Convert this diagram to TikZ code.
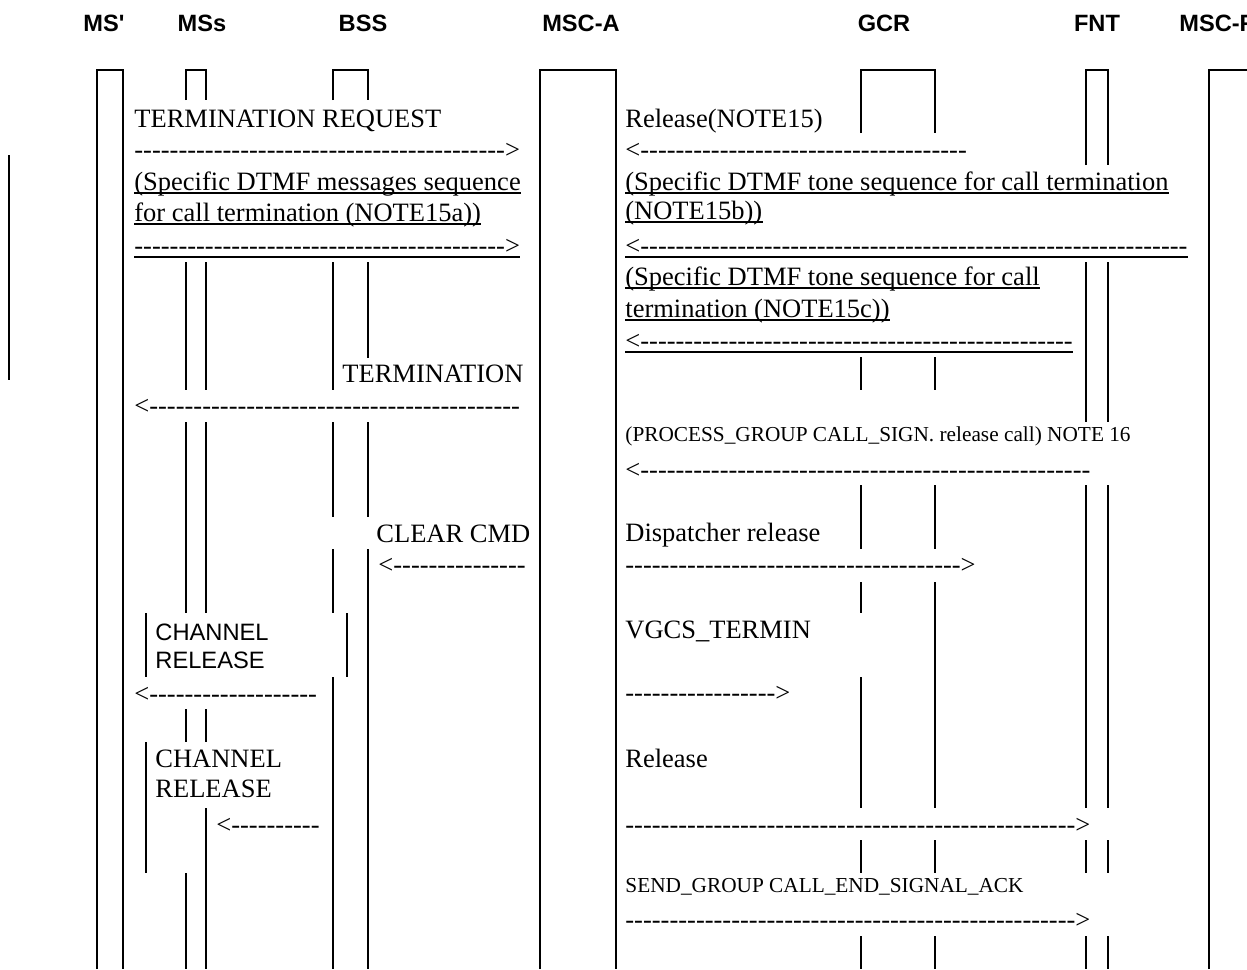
\documentclass[tikz,border=0pt]{standalone}
\usepackage{fontspec}
\setmainfont{Liberation Serif}[Ligatures=TeXOff]
\setsansfont{Liberation Sans}[Ligatures=TeXOff]
\newcommand\dsh[1]{\foreach\k in {1,...,#1}{-}}
\newcommand\ulnode[1]{\draw[ul] ([yshift=-1.5pt]#1.base west) -- ([yshift=-1.5pt]#1.base east);}
\begin{document}
\begin{tikzpicture}[x=0.5pt,y=-0.5pt,
  msg/.style={anchor=base west,inner sep=0pt,font=\fontsize{13.25}{15}\selectfont},
  small/.style={anchor=base west,inner sep=0pt,font=\fontsize{10.65}{12}\selectfont},
  sansmsg/.style={anchor=base west,inner sep=0pt,font=\sffamily\fontsize{11.85}{14}\selectfont},
  head/.style={anchor=base,inner sep=0pt,font=\sffamily\bfseries\fontsize{11.8}{14}\selectfont},
  life/.style={line width=1pt},
  ul/.style={line width=1pt}]
\fill[white] (0,0) rectangle (1247,969);
\useasboundingbox (0,0) rectangle (1247,969);
% headers
\node[head] (hms1) at (104,32) {MS'};
\node[head] (hmss) at (202,32) {MSs};
\node[head] (hbss) at (363,32) {BSS};
\node[head] (hmsca) at (581,32) {MSC-A};
\node[head] (hgcr) at (884,32) {GCR};
\node[head] (hfnt) at (1097,32) {FNT};
\node[head,anchor=base west] (hmscf) at (1179,32) {MSC-F};
% full lifelines
\draw[life] (97,969) -- (97,70) -- (123,70) -- (123,969);
\draw[life] (540,969) -- (540,70) -- (616,70) -- (616,969);
\draw[life] (1209,969) -- (1209,70) -- (1260,70);
% top boxes
\draw[life] (186,100) -- (186,70) -- (206,70) -- (206,100);
\draw[life] (333,100) -- (333,70) -- (368,70) -- (368,100);
\draw[life] (861,133) -- (861,70) -- (935,70) -- (935,133);
\draw[life] (1086,165) -- (1086,70) -- (1108,70) -- (1108,165);
% segments
\foreach \a/\b in {262/390,422/613,709/742,873/969} \draw[life] (186,\a) -- (186,\b);
\foreach \a/\b in {262/390,422/613,709/742,808/969} \draw[life] (206,\a) -- (206,\b);
\foreach \a/\b in {262/390,422/517,549/613,677/969} \draw[life] (333,\a) -- (333,\b);
\foreach \a/\b in {262/358,422/517,549/969} \draw[life] (368,\a) -- (368,\b);
\foreach \a/\b in {613/677,742/873} \draw[life] (146,\a) -- (146,\b);
\draw[life] (347,613) -- (347,677);
\foreach \a/\b in {357/390,485/549,582/613,677/808,840/873,936/969} \draw[life] (861,\a) -- (861,\b);
\foreach \a/\b in {357/390,485/549,582/808,840/873,936/969} \draw[life] (935,\a) -- (935,\b);
\foreach \a/\b in {262/422,485/808,840/873,936/969} {\draw[life] (1086,\a) -- (1086,\b); \draw[life] (1108,\a) -- (1108,\b);}
\draw[life] (9,155) -- (9,380);
% left messages
\node[msg] (t1) at (134,127) {TERMINATION REQUEST};
\node[msg] (a1) at (134,158) {\dsh{42}>};
\node[msg] (t2) at (134,190) {(Specific DTMF messages sequence};
\node[msg] (t3) at (134,221) {for call termination (NOTE15a))};
\node[msg] (a2) at (134,254) {\dsh{42}>};
\ulnode{t2}\ulnode{t3}\ulnode{a2}
\node[msg] (t4) at (342,382) {TERMINATION};
\node[msg] (a3) at (134,414) {<\dsh{42}};
\node[msg] (t5) at (376,542) {CLEAR CMD};
\node[msg] (a4) at (378,573) {<\dsh{15}};
\node[sansmsg] (t6) at (155,640) {CHANNEL};
\node[sansmsg] (t7) at (155,668) {RELEASE};
\node[msg] (a5) at (134,702) {<\dsh{19}};
\node[msg] (t8) at (155,767) {CHANNEL};
\node[msg] (t9) at (155,797) {RELEASE};
\node[msg] (a6) at (216,833) {<\dsh{10}};
% right messages
\node[msg] (r1) at (625,127) {Release(NOTE15)};
\node[msg] (b1) at (625,158) {<\dsh{37}};
\node[msg] (r2) at (625,190) {(Specific DTMF tone sequence for call termination};
\node[msg] (r3) at (625,219) {(NOTE15b))};
\node[msg] (b2) at (625,254) {<\dsh{62}};
\ulnode{r2}\ulnode{r3}\ulnode{b2}
\node[msg] (r4) at (625,285) {(Specific DTMF tone sequence for call};
\node[msg] (r5) at (625,317) {termination (NOTE15c))};
\node[msg] (b3) at (625,349) {<\dsh{49}};
\ulnode{r4}\ulnode{r5}\ulnode{b3}
\node[small] (r6) at (625,441) {(PROCESS\_GROUP CALL\_SIGN. release call) NOTE 16};
\node[msg] (b4) at (625,478) {<\dsh{51}};
\node[msg] (r7) at (625,541) {Dispatcher release};
\node[msg] (b5) at (625,573) {\dsh{38}>};
\node[msg] (r8) at (625,638) {VGCS\_TERMIN};
\node[msg] (b6) at (625,701) {\dsh{17}>};
\node[msg] (r9) at (625,767) {Release};
\node[msg] (b7) at (625,833) {\dsh{51}>};
\node[small] (r10) at (625,892) {SEND\_GROUP CALL\_END\_SIGNAL\_ACK};
\node[msg] (b8) at (625,928) {\dsh{51}>};
\end{tikzpicture}
\end{document}
